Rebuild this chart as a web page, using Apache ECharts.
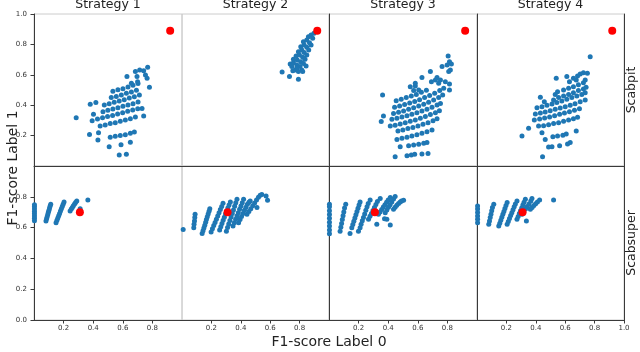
<!DOCTYPE html>
<html>
<head>
<meta charset="utf-8">
<script src="https://cdn.jsdelivr.net/npm/echarts@6/dist/echarts.min.js"></script>
<style>
  html, body { margin: 0; padding: 0; background: #fff; }
  #chart { width: 640px; height: 352px; }
</style>
</head>
<body>
<div id="chart"></div>
<script>
const strategies = ['Strategy 1', 'Strategy 2', 'Strategy 3', 'Strategy 4']
const rowNames = ['Scabpit', 'Scabsuper']
const xTicks = [0.2, 0.4, 0.6, 0.8]
const xTicksLast = [0.2, 0.4, 0.6, 0.8, 1.0]
const yTicksPit = [0.2, 0.4, 0.6, 0.8, 1.0]
const yTicksSuper = [0.0, 0.2, 0.4, 0.6, 0.8]

// red reference point per row: [F1 label 0, F1 label 1]
const refPit = [0.92, 0.89]
const refSuper = [0.31, 0.70]

// Scabpit row
const pit1 = [
  [0.285, 0.318], [0.576, 0.072], [0.624, 0.077], [0.508, 0.127], [0.588, 0.140], [0.651, 0.156], [0.432, 0.171], [0.375, 0.208],
  [0.436, 0.219], [0.515, 0.189], [0.549, 0.195], [0.583, 0.200], [0.617, 0.206], [0.651, 0.215], [0.678, 0.224],
  [0.447, 0.263], [0.481, 0.270], [0.515, 0.279], [0.549, 0.285], [0.583, 0.294], [0.617, 0.303], [0.651, 0.311], [0.685, 0.322],
  [0.393, 0.298], [0.429, 0.309], [0.463, 0.318], [0.497, 0.325], [0.531, 0.333], [0.565, 0.342], [0.599, 0.351], [0.633, 0.360], [0.667, 0.368], [0.701, 0.377],
  [0.402, 0.340], [0.466, 0.357], [0.499, 0.366], [0.533, 0.375], [0.567, 0.384], [0.601, 0.393], [0.635, 0.401], [0.669, 0.410], [0.703, 0.421],
  [0.380, 0.406], [0.418, 0.417], [0.475, 0.401], [0.508, 0.410], [0.542, 0.419], [0.576, 0.428], [0.610, 0.436], [0.644, 0.447], [0.678, 0.456], [0.712, 0.467],
  [0.522, 0.450], [0.556, 0.458], [0.590, 0.467], [0.624, 0.478], [0.658, 0.487], [0.692, 0.498],
  [0.533, 0.491], [0.567, 0.502], [0.601, 0.509], [0.635, 0.520], [0.669, 0.531], [0.703, 0.542],
  [0.628, 0.588], [0.658, 0.544], [0.685, 0.621], [0.714, 0.632], [0.741, 0.627], [0.768, 0.649], [0.753, 0.599], [0.764, 0.577],
  [0.780, 0.518], [0.730, 0.379], [0.741, 0.329], [0.696, 0.588], [0.700, 0.555]
]
const pit2 = [
  [0.681, 0.618], [0.731, 0.588], [0.792, 0.570],
  [0.736, 0.671], [0.758, 0.680], [0.781, 0.664], [0.803, 0.654], [0.815, 0.632], [0.770, 0.632], [0.792, 0.621], [0.747, 0.654],
  [0.758, 0.702], [0.784, 0.697], [0.807, 0.686], [0.826, 0.675], [0.776, 0.724], [0.799, 0.730], [0.821, 0.715], [0.837, 0.702],
  [0.792, 0.752], [0.815, 0.763], [0.831, 0.746], [0.849, 0.730], [0.808, 0.785], [0.831, 0.796], [0.849, 0.781], [0.862, 0.763],
  [0.826, 0.818], [0.849, 0.829], [0.867, 0.811], [0.878, 0.796], [0.860, 0.851], [0.878, 0.862], [0.889, 0.840], [0.898, 0.873],
  [0.844, 0.658], [0.821, 0.621], [0.754, 0.627], [0.781, 0.643]
]
const pit3 = [
  [0.362, 0.467], [0.368, 0.329], [0.353, 0.292],
  [0.447, 0.061], [0.527, 0.068], [0.556, 0.072], [0.579, 0.077], [0.628, 0.079], [0.669, 0.083],
  [0.481, 0.127], [0.538, 0.134], [0.572, 0.138], [0.606, 0.143], [0.640, 0.149], [0.662, 0.154],
  [0.459, 0.175], [0.493, 0.182], [0.527, 0.189], [0.560, 0.197], [0.594, 0.206], [0.628, 0.215], [0.662, 0.226], [0.696, 0.237],
  [0.466, 0.230], [0.499, 0.237], [0.533, 0.246], [0.567, 0.254], [0.601, 0.263], [0.635, 0.274], [0.669, 0.285], [0.703, 0.298], [0.730, 0.311],
  [0.414, 0.263], [0.447, 0.268], [0.481, 0.276], [0.515, 0.285], [0.549, 0.294], [0.583, 0.303], [0.617, 0.314], [0.651, 0.325], [0.685, 0.338], [0.719, 0.351], [0.746, 0.364],
  [0.425, 0.307], [0.459, 0.314], [0.493, 0.322], [0.527, 0.331], [0.560, 0.340], [0.594, 0.351], [0.628, 0.362], [0.662, 0.373], [0.696, 0.386], [0.730, 0.401], [0.753, 0.412],
  [0.436, 0.346], [0.470, 0.353], [0.504, 0.362], [0.538, 0.373], [0.572, 0.384], [0.606, 0.395], [0.640, 0.406], [0.673, 0.419], [0.707, 0.434], [0.741, 0.450], [0.768, 0.467],
  [0.443, 0.386], [0.477, 0.395], [0.511, 0.404], [0.545, 0.414], [0.579, 0.425], [0.612, 0.436], [0.646, 0.450], [0.680, 0.463], [0.714, 0.478], [0.748, 0.496], [0.775, 0.511],
  [0.454, 0.430], [0.488, 0.439], [0.522, 0.450], [0.556, 0.461], [0.590, 0.471], [0.624, 0.485], [0.658, 0.498],
  [0.549, 0.522], [0.583, 0.526], [0.572, 0.496], [0.606, 0.500], [0.583, 0.544],
  [0.628, 0.583], [0.685, 0.621], [0.692, 0.555], [0.719, 0.566], [0.730, 0.583], [0.753, 0.566], [0.741, 0.544], [0.786, 0.555], [0.814, 0.500], [0.814, 0.539],
  [0.764, 0.654], [0.798, 0.664], [0.814, 0.686], [0.827, 0.671], [0.805, 0.724], [0.820, 0.632], [0.809, 0.621]
]
const pit4 = [
  [0.306, 0.197], [0.351, 0.248], [0.446, 0.061],
  [0.487, 0.125], [0.510, 0.127], [0.562, 0.134], [0.616, 0.145], [0.634, 0.154],
  [0.442, 0.219], [0.464, 0.175], [0.675, 0.230],
  [0.516, 0.193], [0.548, 0.197], [0.584, 0.202], [0.607, 0.211],
  [0.419, 0.263], [0.453, 0.265], [0.487, 0.272], [0.521, 0.279], [0.555, 0.285], [0.589, 0.294], [0.623, 0.303], [0.656, 0.311], [0.684, 0.320],
  [0.390, 0.303], [0.426, 0.309], [0.460, 0.316], [0.494, 0.322], [0.528, 0.331], [0.562, 0.340], [0.595, 0.349], [0.629, 0.357], [0.663, 0.366], [0.697, 0.377],
  [0.397, 0.342], [0.431, 0.349], [0.464, 0.355], [0.498, 0.364], [0.532, 0.373], [0.566, 0.382], [0.600, 0.390], [0.634, 0.399], [0.667, 0.410], [0.702, 0.423], [0.736, 0.434],
  [0.408, 0.384], [0.442, 0.390], [0.476, 0.399], [0.510, 0.408], [0.543, 0.417], [0.577, 0.428], [0.611, 0.439], [0.645, 0.450], [0.679, 0.461], [0.713, 0.471], [0.736, 0.482],
  [0.431, 0.452], [0.458, 0.423], [0.521, 0.434], [0.555, 0.450], [0.589, 0.461], [0.623, 0.471], [0.656, 0.482], [0.690, 0.496], [0.724, 0.507], [0.742, 0.518],
  [0.532, 0.471], [0.548, 0.489], [0.589, 0.500], [0.623, 0.511], [0.656, 0.522], [0.690, 0.535], [0.724, 0.548],
  [0.539, 0.577], [0.611, 0.588], [0.629, 0.555], [0.656, 0.577], [0.675, 0.566], [0.684, 0.592], [0.702, 0.605], [0.724, 0.614], [0.751, 0.610], [0.736, 0.566],
  [0.770, 0.719]
]

// Scabsuper row
const super1 = [
  [0.003, 0.645], [0.003, 0.660], [0.003, 0.675], [0.003, 0.690], [0.003, 0.705], [0.003, 0.720], [0.003, 0.735], [0.003, 0.748],
  [0.081, 0.643], [0.085, 0.657], [0.089, 0.671], [0.093, 0.685], [0.097, 0.699], [0.101, 0.713], [0.105, 0.727], [0.109, 0.740], [0.113, 0.752],
  [0.149, 0.632], [0.155, 0.647], [0.161, 0.662], [0.167, 0.677], [0.173, 0.692], [0.179, 0.707], [0.185, 0.722], [0.191, 0.737], [0.197, 0.752], [0.203, 0.767],
  [0.244, 0.708], [0.252, 0.720], [0.259, 0.731], [0.266, 0.742], [0.274, 0.753], [0.281, 0.763], [0.289, 0.773],
  [0.312, 0.723], [0.364, 0.780]
]
const super2 = [
  [0.008, 0.588],
  [0.080, 0.599], [0.082, 0.621], [0.085, 0.643], [0.087, 0.665], [0.089, 0.686],
  [0.137, 0.562], [0.143, 0.580], [0.149, 0.598], [0.155, 0.616], [0.161, 0.634], [0.166, 0.652], [0.172, 0.670], [0.178, 0.688], [0.184, 0.706], [0.189, 0.723],
  [0.198, 0.571], [0.207, 0.592], [0.216, 0.613], [0.225, 0.633], [0.234, 0.654], [0.243, 0.675], [0.252, 0.696], [0.261, 0.717], [0.270, 0.737], [0.279, 0.758],
  [0.256, 0.584], [0.264, 0.605], [0.272, 0.626], [0.280, 0.647], [0.288, 0.667], [0.296, 0.688], [0.304, 0.708], [0.312, 0.727], [0.320, 0.747], [0.329, 0.767],
  [0.302, 0.577], [0.310, 0.600], [0.318, 0.623], [0.326, 0.646], [0.334, 0.669], [0.342, 0.692], [0.350, 0.715], [0.358, 0.738], [0.366, 0.761], [0.374, 0.784],
  [0.347, 0.610], [0.356, 0.632], [0.365, 0.654], [0.374, 0.676], [0.383, 0.697], [0.392, 0.719], [0.401, 0.741], [0.410, 0.762], [0.419, 0.784],
  [0.385, 0.632], [0.395, 0.652], [0.405, 0.672], [0.415, 0.692], [0.425, 0.712], [0.435, 0.732], [0.445, 0.752], [0.455, 0.765], [0.464, 0.773],
  [0.442, 0.686], [0.455, 0.705], [0.468, 0.723], [0.481, 0.742], [0.494, 0.760], [0.507, 0.779], [0.520, 0.797], [0.532, 0.810],
  [0.543, 0.815], [0.572, 0.806], [0.582, 0.778], [0.510, 0.730]
]
const super3 = [
  [0.003, 0.560], [0.003, 0.585], [0.003, 0.610], [0.003, 0.635], [0.003, 0.660], [0.003, 0.685], [0.003, 0.710], [0.003, 0.735], [0.003, 0.752],
  [0.075, 0.577], [0.080, 0.602], [0.085, 0.627], [0.090, 0.652], [0.095, 0.677], [0.100, 0.702], [0.105, 0.727], [0.113, 0.752],
  [0.142, 0.562],
  [0.154, 0.599], [0.161, 0.620], [0.168, 0.641], [0.175, 0.662], [0.182, 0.683], [0.189, 0.704], [0.196, 0.725], [0.203, 0.746], [0.210, 0.767],
  [0.199, 0.577], [0.210, 0.599],
  [0.217, 0.621], [0.225, 0.644], [0.233, 0.666], [0.241, 0.689], [0.249, 0.712], [0.257, 0.735], [0.265, 0.757], [0.278, 0.780],
  [0.267, 0.654], [0.277, 0.673], [0.287, 0.692], [0.297, 0.711], [0.307, 0.731], [0.317, 0.750], [0.327, 0.769], [0.346, 0.789],
  [0.323, 0.621],
  [0.334, 0.686], [0.345, 0.702], [0.356, 0.717], [0.367, 0.733], [0.378, 0.749], [0.389, 0.764], [0.400, 0.780], [0.414, 0.795],
  [0.375, 0.658], [0.391, 0.654],
  [0.380, 0.697], [0.391, 0.714], [0.402, 0.732], [0.413, 0.749], [0.424, 0.767], [0.436, 0.785], [0.447, 0.802],
  [0.414, 0.617],
  [0.436, 0.719], [0.447, 0.732], [0.458, 0.745], [0.470, 0.756], [0.481, 0.767], [0.490, 0.773], [0.504, 0.778]
]
const super4 = [
  [0.004, 0.632], [0.004, 0.654], [0.004, 0.676], [0.004, 0.698], [0.004, 0.720], [0.004, 0.740],
  [0.080, 0.621], [0.085, 0.643], [0.090, 0.665], [0.095, 0.687], [0.100, 0.709], [0.105, 0.730], [0.114, 0.752],
  [0.148, 0.610], [0.155, 0.629], [0.162, 0.648], [0.169, 0.667], [0.176, 0.686], [0.183, 0.705], [0.190, 0.724], [0.197, 0.743], [0.205, 0.763],
  [0.205, 0.621], [0.213, 0.640], [0.221, 0.659], [0.229, 0.678], [0.237, 0.697], [0.245, 0.716], [0.253, 0.735], [0.261, 0.754], [0.272, 0.773],
  [0.272, 0.654], [0.280, 0.672], [0.288, 0.691], [0.296, 0.709], [0.304, 0.728], [0.312, 0.746], [0.320, 0.765], [0.329, 0.784],
  [0.306, 0.686], [0.318, 0.703], [0.330, 0.720], [0.342, 0.737], [0.354, 0.754], [0.366, 0.772], [0.374, 0.789],
  [0.363, 0.719], [0.375, 0.731], [0.387, 0.743], [0.399, 0.755], [0.411, 0.767], [0.426, 0.780],
  [0.336, 0.643], [0.521, 0.780]
]

const rowData = [[pit1, pit2, pit3, pit4], [super1, super2, super3, super4]]
const rowRef = [refPit, refSuper]

const FONT = 'DejaVu Sans'
const DARK = '#3a3a3a'
const LIGHT = '#cccccc'
const lefts = [34, 182, 329, 477]
const widths = [148, 147, 148, 147]
const tops = [14, 166]
const heights = [152, 154]

const fmt = v => v.toFixed(1)

const grid = []
const xAxis = []
const yAxis = []
const series = []

for (let r = 0; r < 2; r++) {
  for (let c = 0; c < 4; c++) {
    const gi = r * 4 + c
    grid.push({
      left: lefts[c], top: tops[r], width: widths[c], height: heights[r],
      show: true, borderColor: LIGHT, borderWidth: 1, backgroundColor: 'transparent'
    })
    const xt = c === 3 ? xTicksLast : xTicks
    xAxis.push({
      gridIndex: gi, type: 'value', min: 0, max: 1, position: 'bottom',
      axisLine: { show: true, onZero: false, lineStyle: { color: DARK, width: 1 } },
      axisTick: { show: r === 1, length: 3.5, customValues: xt, lineStyle: { color: DARK } },
      axisLabel: { show: r === 1, customValues: xt, formatter: fmt, fontSize: 7, fontFamily: FONT, color: '#333', margin: 5 },
      splitLine: { show: false }
    })
    const yt = r === 0 ? yTicksPit : yTicksSuper
    const yi = yAxis.length
    yAxis.push({
      gridIndex: gi, type: 'value', min: 0, max: 1, position: 'left',
      axisLine: { show: c !== 1, onZero: false, lineStyle: { color: DARK, width: 1 } },
      axisTick: { show: c === 0, length: 3.5, customValues: yt, lineStyle: { color: DARK } },
      axisLabel: { show: c === 0, customValues: yt, formatter: fmt, fontSize: 7, fontFamily: FONT, color: '#333', margin: 7 },
      splitLine: { show: false }
    })
    if (c === 3) {
      yAxis.push({
        gridIndex: gi, type: 'value', min: 0, max: 1, position: 'right',
        axisLine: { show: true, onZero: false, lineStyle: { color: DARK, width: 1 } },
        axisTick: { show: false }, axisLabel: { show: false }, splitLine: { show: false }
      })
    }
    series.push({
      type: 'scatter', xAxisIndex: gi, yAxisIndex: yi,
      data: rowData[r][c], symbolSize: 5,
      itemStyle: { color: '#1f77b4', opacity: 1 }
    })
    series.push({
      type: 'scatter', xAxisIndex: gi, yAxisIndex: yi,
      data: [rowRef[r]], symbolSize: 8,
      itemStyle: { color: '#ff0000', opacity: 1 }
    })
  }
}

const textStyle = (size) => ({ fontSize: size, fontFamily: FONT, fill: '#222', align: 'center', verticalAlign: 'middle' })

const graphic = [
  ...strategies.map((s, i) => ({
    type: 'text', x: lefts[i] + widths[i] / 2, y: 5,
    style: { text: s, ...textStyle(12.5) }
  })),
  ...rowNames.map((s, i) => ({
    type: 'text', x: 632, y: tops[i] + heights[i] / 2, rotation: Math.PI / 2,
    style: { text: s, ...textStyle(12.5) }
  })),
  { type: 'text', x: 13, y: 168, rotation: Math.PI / 2, style: { text: 'F1-score Label 1', ...textStyle(14) } },
  { type: 'text', x: 329, y: 342, style: { text: 'F1-score Label 0', ...textStyle(14) } }
]

const chart = echarts.init(document.getElementById('chart'))
chart.setOption({
  animation: false,
  grid,
  xAxis,
  yAxis,
  series,
  graphic
})
</script>
</body>
</html>
